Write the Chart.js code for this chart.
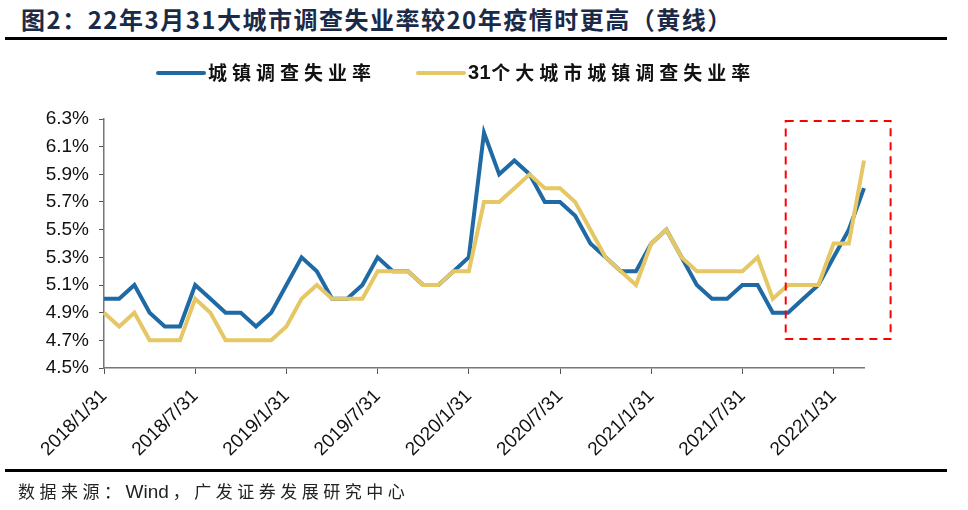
<!DOCTYPE html>
<html>
<head>
<meta charset="utf-8">
<script src="https://cdn.jsdelivr.net/npm/chart.js@4"></script>
<style>
  body { margin: 0; background: #fff; }
  #wrap { position: relative; width: 968px; height: 510px; overflow: hidden; }
  #myChart { position: absolute; left: 0; top: 0; }
  .title { position: absolute; left: 21px; top: 1px; font: bold 24px "Noto Sans CJK SC", sans-serif; color: #1b2a47; letter-spacing: 1.5px; white-space: nowrap; }
  .rule { position: absolute; left: 5px; width: 942px; height: 3px; background: #000; }
  .source { position: absolute; left: 18px; top: 478px; font: 17px "Noto Sans CJK SC", sans-serif; color: #222; letter-spacing: 4.5px; white-space: nowrap; }
  .source span { font-family: "Liberation Sans", Arial, sans-serif; font-size: 19px; letter-spacing: 0; margin-right: 4px; }
</style>
</head>
<body>
<div id="wrap">
  <div class="title">图2：22年3月31大城市调查失业率较20年疫情时更高（黄线）</div>
  <div class="rule" style="top:37px"></div>
  <canvas id="myChart" width="968" height="510"></canvas>
  <div class="rule" style="top:469px"></div>
  <div class="source">数据来源：<span>Wind</span>，广发证券发展研究中心</div>
</div>
<script>
// monthly points, 2018/1 .. 2022/3
const months = [
	"2018/1/31","2018/2/28","2018/3/31","2018/4/30","2018/5/31","2018/6/30",
	"2018/7/31","2018/8/31","2018/9/30","2018/10/31","2018/11/30","2018/12/31",
	"2019/1/31","2019/2/28","2019/3/31","2019/4/30","2019/5/31","2019/6/30",
	"2019/7/31","2019/8/31","2019/9/30","2019/10/31","2019/11/30","2019/12/31",
	"2020/1/31","2020/2/29","2020/3/31","2020/4/30","2020/5/31","2020/6/30",
	"2020/7/31","2020/8/31","2020/9/30","2020/10/31","2020/11/30","2020/12/31",
	"2021/1/31","2021/2/28","2021/3/31","2021/4/30","2021/5/31","2021/6/30",
	"2021/7/31","2021/8/31","2021/9/30","2021/10/31","2021/11/30","2021/12/31",
	"2022/1/31","2022/2/28","2022/3/31"
];

// 城镇调查失业率
const urbanRate = [
	5.0,5.0,5.1,4.9,4.8,4.8,5.1,5.0,4.9,4.9,4.8,4.9,
	5.1,5.3,5.2,5.0,5.0,5.1,5.3,5.2,5.2,5.1,5.1,5.2,
	5.3,6.2,5.9,6.0,5.9,5.7,5.7,5.6,5.4,5.3,5.2,5.2,
	5.4,5.5,5.3,5.1,5.0,5.0,5.1,5.1,4.9,4.9,5.0,5.1,
	5.3,5.5,5.8
];

// 31个大城市城镇调查失业率
const city31Rate = [
	4.9,4.8,4.9,4.7,4.7,4.7,5.0,4.9,4.7,4.7,4.7,4.7,
	4.8,5.0,5.1,5.0,5.0,5.0,5.2,5.2,5.2,5.1,5.1,5.2,
	5.2,5.7,5.7,5.8,5.9,5.8,5.8,5.7,5.5,5.3,5.2,5.1,
	5.4,5.5,5.3,5.2,5.2,5.2,5.2,5.3,5.0,5.1,5.1,5.1,
	5.4,5.4,6.0
];

const seriesNames = ["城镇调查失业率", "31个大城市城镇调查失业率"];
const yMin = 4.5, yMax = 6.3, yStep = 0.2;

// highlighted box (category index range, value range)
const boxFrom = 44.85, boxTo = 51.75;
const boxTop = 6.285, boxBottom = 4.71;

const BLUE = '#1f6aa5';
const YELLOW = '#e5c765';

// legend drawn at fixed spot above the plot
const legendPlugin = {
	id: 'topLegend',
	afterDraw(chart) {
		const ctx = chart.ctx;
		let x = 158;
		const y = 73;
		ctx.save();
		ctx.textBaseline = 'middle';
		chart.data.datasets.forEach((ds) => {
			ctx.strokeStyle = ds.borderColor;
			ctx.lineWidth = 4;
			ctx.lineCap = 'round';
			ctx.beginPath();
			ctx.moveTo(x, y);
			ctx.lineTo(x + 46, y);
			ctx.stroke();
			ctx.fillStyle = '#111';
			let tx = x + 50;
			// digits tight, CJK spread out like the source
			for (const ch of ds.label) {
				const digit = /[0-9]/.test(ch);
				ctx.font = digit ? 'bold 20px "Liberation Sans", Arial' : 'bold 19px "Noto Sans CJK SC", sans-serif';
				ctx.fillText(ch, tx, y);
				tx += ctx.measureText(ch).width + (digit ? 0.5 : 5);
			}
			x = tx + 42;
		});
		ctx.restore();
	}
};

// red dashed frame round the last months
const boxPlugin = {
	id: 'redBox',
	afterDatasetsDraw(chart) {
		const xs = chart.scales.x, ys = chart.scales.y;
		const ctx = chart.ctx;
		const l = xs.getPixelForValue(boxFrom), r = xs.getPixelForValue(boxTo);
		const t = ys.getPixelForValue(boxTop), b = ys.getPixelForValue(boxBottom);
		ctx.save();
		ctx.strokeStyle = '#ff0000';
		ctx.lineWidth = 2;
		ctx.setLineDash([8, 6]);
		ctx.strokeRect(l, t, r - l, b - t);
		ctx.restore();
	}
};

const data = {
	labels: months,
	datasets: [
		{
			label: seriesNames[0],
			data: urbanRate,
			borderColor: BLUE,
			backgroundColor: BLUE,
			borderWidth: 4,
			pointRadius: 0,
			tension: 0,
			order: 1
		},
		{
			label: seriesNames[1],
			data: city31Rate,
			borderColor: YELLOW,
			backgroundColor: YELLOW,
			borderWidth: 4,
			pointRadius: 0,
			tension: 0,
			order: 0
		}
	]
};

const config = {
	type: 'line',
	data: data,
	options: {
		responsive: false,
		animation: false,
		layout: { padding: { top: 119, right: 104, bottom: 0, left: 0 } },
		plugins: {
			legend: { display: false },
			title: { display: false },
			tooltip: { enabled: false }
		},
		scales: {
			x: {
				offset: false,
				border: { color: '#777', width: 1.5 },
				grid: {
					drawOnChartArea: false,
					drawTicks: true,
					tickLength: 6,
					color: (c) => (c.index % 6 === 0 ? '#555' : 'rgba(0,0,0,0)')
				},
				ticks: {
					autoSkip: false,
					maxRotation: 45,
					minRotation: 45,
					padding: 11,
					color: '#111',
					font: { family: 'Liberation Sans, Arial', size: 19 },
					callback: function(v, i) { return i % 6 === 0 ? months[i] : ''; }
				},
				afterFit: (s) => { s.height = 142; }
			},
			y: {
				min: yMin,
				max: yMax,
				border: { color: '#777', width: 1.5 },
				grid: { drawOnChartArea: false, drawTicks: true, tickLength: 5, color: '#555' },
				ticks: {
					stepSize: yStep,
					padding: 10,
					color: '#111',
					font: { family: 'Liberation Sans, Arial', size: 19 },
					callback: (v) => v.toFixed(1) + '%'
				},
				afterFit: (s) => { s.width = 104; }
			}
		}
	},
	plugins: [legendPlugin, boxPlugin]
};

const myChart = new Chart(document.getElementById('myChart'), config);
</script>
</body>
</html>
